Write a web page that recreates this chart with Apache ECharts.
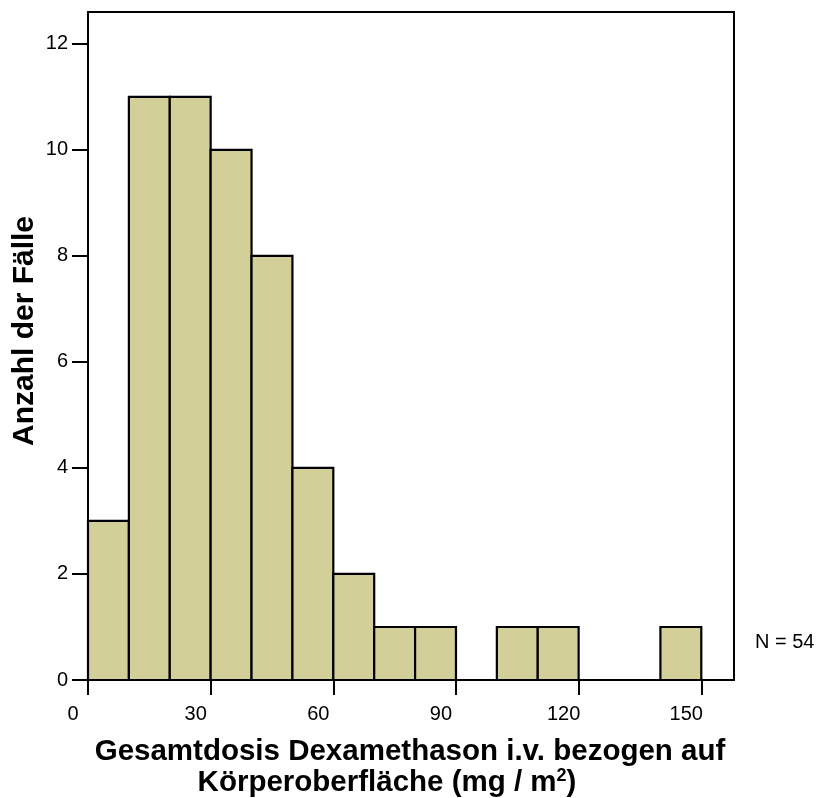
<!DOCTYPE html>
<html>
<head>
<meta charset="utf-8">
<script src="https://cdn.jsdelivr.net/npm/echarts@6/dist/echarts.min.js"></script>
<style>
  html, body { margin: 0; padding: 0; background: #fff; }
  #chart { width: 819px; height: 798px; }
</style>
</head>
<body>
<div id="chart"></div>
<script>
// Histogram bins (mg / m²), width 10
const binStarts = [0, 10, 20, 30, 40, 50, 60, 70, 80, 90, 100, 110, 120, 130, 140];
const binWidth = 10;
const counts = [3, 11, 11, 10, 8, 4, 2, 1, 1, 0, 1, 1, 0, 0, 1];
const xTicks = [0, 30, 60, 90, 120, 150];
const yTicks = [0, 2, 4, 6, 8, 10, 12];
const totalN = 54;

const FONT = '"Liberation Sans", Arial, Helvetica, sans-serif';
const BAR_FILL = '#d3cf99';

const chart = echarts.init(document.getElementById('chart'), null, { renderer: 'canvas' });

const barData = binStarts.map((s, i) => [s, s + binWidth, counts[i]]);

chart.setOption({
  backgroundColor: '#ffffff',
  animation: false,
  grid: {
    left: 88, top: 12, right: 85, bottom: 118,
    show: true, borderColor: '#000', borderWidth: 2, backgroundColor: 'transparent'
  },
  xAxis: {
    type: 'value', min: 0, max: 158, interval: 30,
    splitLine: { show: false },
    axisLine: { show: true, onZero: false, lineStyle: { color: '#000', width: 2 } },
    axisTick: { show: true, length: 15, inside: false, customValues: xTicks,
      lineStyle: { color: '#000', width: 2 } },
    axisLabel: { customValues: xTicks, margin: 24, color: '#000', fontFamily: FONT, fontSize: 20,
      padding: [0, 30, 0, 0] }
  },
  yAxis: {
    type: 'value', min: 0, max: 12.6, interval: 2,
    splitLine: { show: false },
    axisLine: { show: true, lineStyle: { color: '#000', width: 2 } },
    axisTick: { show: true, length: 16, inside: false, customValues: yTicks,
      lineStyle: { color: '#000', width: 2 } },
    axisLabel: { customValues: yTicks, margin: 20, color: '#000', fontFamily: FONT, fontSize: 20 }
  },
  series: [{
    type: 'custom',
    data: barData,
    encode: { x: [0, 1], y: 2 },
    renderItem: function (params, api) {
      const p0 = api.coord([api.value(0), 0]);
      const p1 = api.coord([api.value(1), api.value(2)]);
      const h = p0[1] - p1[1];
      if (h <= 0) {
        return {
          type: 'line',
          shape: { x1: p0[0], y1: p0[1], x2: p1[0], y2: p0[1] },
          style: { stroke: '#000', lineWidth: 2 }
        };
      }
      return {
        type: 'rect',
        shape: { x: p0[0], y: p1[1], width: p1[0] - p0[0], height: h },
        style: { fill: BAR_FILL, stroke: '#000', lineWidth: 2.2 }
      };
    }
  }],
  graphic: [
    {
      type: 'text', left: 755, top: 632,
      style: { text: 'N = ' + totalN, fontFamily: FONT, fontSize: 20, fill: '#000' }
    },
    {
      type: 'text', x: 25, y: 331, rotation: Math.PI / 2,
      style: {
        text: 'Anzahl der Fälle', fontFamily: FONT, fontSize: 30, fontWeight: 'bold',
        fill: '#000', align: 'center', verticalAlign: 'middle'
      }
    },
    {
      type: 'text', x: 410, y: 736,
      style: {
        text: '{t|Gesamtdosis Dexamethason i.v. bezogen auf}\n{t|Körperoberfläche (mg / m}{s|2}{t|)}{pad|}',
        align: 'center', verticalAlign: 'top', fill: '#000',
        rich: {
          t: { fontFamily: FONT, fontSize: 29.5, fontWeight: 'bold', lineHeight: 31, fill: '#000' },
          s: { fontFamily: FONT, fontSize: 18, fontWeight: 'bold', lineHeight: 31, fill: '#000',
               verticalAlign: 'top' },
          pad: { width: 46, lineHeight: 31 }
        }
      }
    }
  ]
});
</script>
</body>
</html>
